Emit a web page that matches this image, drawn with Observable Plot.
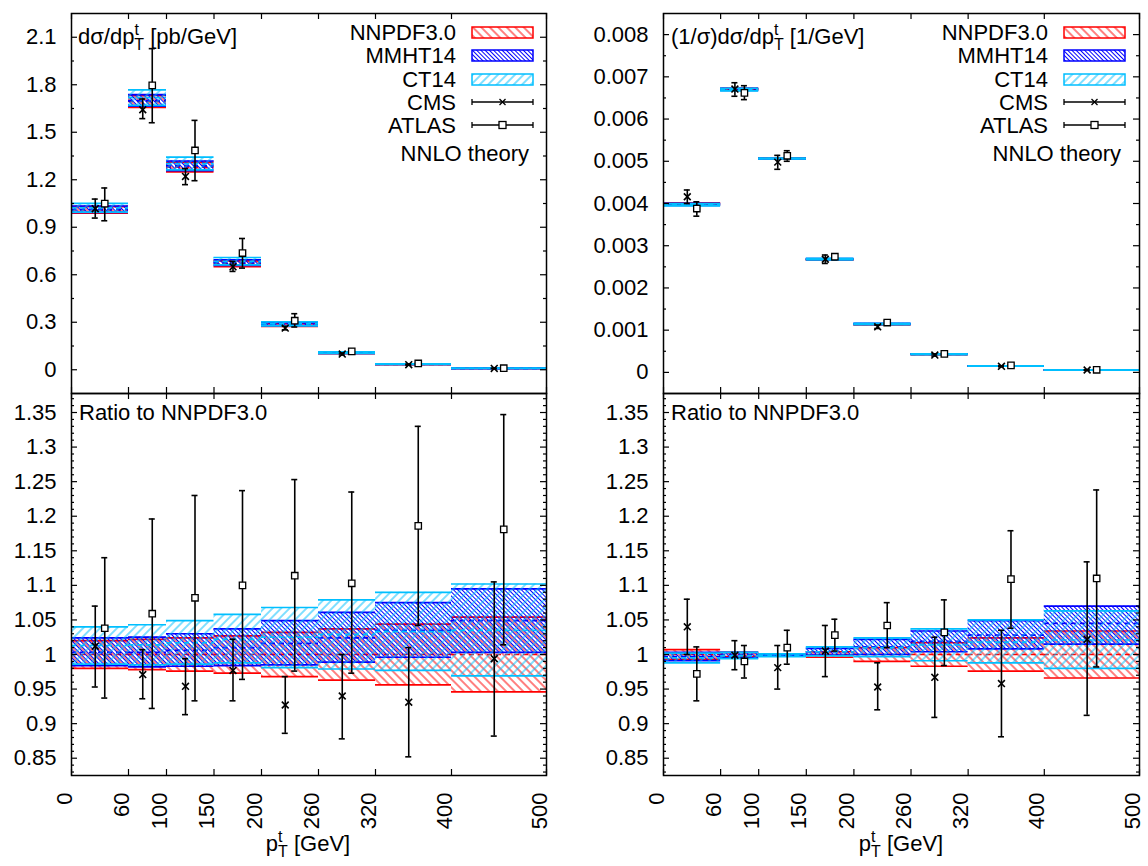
<!DOCTYPE html>
<html><head><meta charset="utf-8">
<script src="https://cdn.jsdelivr.net/npm/d3@7"></script>
<script src="https://cdn.jsdelivr.net/npm/@observablehq/plot@0.6"></script>
<style>
body{margin:0;background:#fff;}
#wrap{position:relative;width:1148px;height:866px;overflow:hidden;font-family:"Liberation Sans",Arial,Helvetica,sans-serif;}
</style></head><body>
<svg width="0" height="0" style="position:absolute;left:0;top:0">
<defs>
<pattern id="hatchRed" patternUnits="userSpaceOnUse" width="6" height="6" patternTransform="rotate(-45)"><line x1="3" y1="0" x2="3" y2="6" stroke="#ff0000" stroke-width="1"/></pattern>
<pattern id="hatchBlue" patternUnits="userSpaceOnUse" width="3" height="3" patternTransform="rotate(-45)"><line x1="1.5" y1="0" x2="1.5" y2="3" stroke="#0000ff" stroke-width="1"/></pattern>
<pattern id="hatchCyan" patternUnits="userSpaceOnUse" width="6" height="6" patternTransform="rotate(45)"><line x1="3" y1="0" x2="3" y2="6" stroke="#00bfff" stroke-width="1"/></pattern>
</defs></svg>
<div id="wrap"></div>
<script>
// ---------- data ----------
const binLo = [0, 60, 100, 150, 200, 260, 320, 400];
const binHi = [60, 100, 150, 200, 260, 320, 400, 500];
const xTicks = [0, 60, 100, 150, 200, 260, 320, 400, 500];
const cmsX = [25, 75, 120, 170, 225, 285, 355, 445];
const atlasX = [35, 85, 130, 180, 235, 295, 365, 455];

// absolute dsigma/dpT [pb/GeV]
const nnpdfAbs = [1.010, 1.695, 1.280, 0.670, 0.283, 0.105, 0.034, 0.0085];
const cmsAbs = [1.017, 1.642, 1.221, 0.650, 0.263, 0.099, 0.032, 0.0085];
const cmsAbsLo = [0.958, 1.586, 1.169, 0.621, 0.252, 0.093, 0.029, 0.0075];
const cmsAbsHi = [1.078, 1.710, 1.270, 0.684, 0.274, 0.105, 0.035, 0.0095];
const atlasAbs = [1.049, 1.796, 1.385, 0.737, 0.310, 0.116, 0.040, 0.0100];
const atlasAbsLo = [0.941, 1.560, 1.194, 0.642, 0.270, 0.101, 0.035, 0.0087];
const atlasAbsHi = [1.148, 2.028, 1.575, 0.829, 0.354, 0.130, 0.045, 0.0114];

// normalized (1/sigma) dsigma/dpT [1/GeV]
const nnpdfNorm = [0.00399, 0.00671, 0.00507, 0.00267, 0.001135, 0.000425, 0.000150, 0.000055];
const cmsNorm = [0.00416, 0.00671, 0.00498, 0.00268, 0.00108, 0.000411, 0.000144, 0.000056];
const cmsNormLo = [0.00400, 0.00654, 0.00481, 0.00258, 0.00104, 0.000386, 0.000132, 0.000050];
const cmsNormHi = [0.00432, 0.00686, 0.00514, 0.00278, 0.00112, 0.000436, 0.000155, 0.000062];
const atlasNorm = [0.00388, 0.00662, 0.00513, 0.00274, 0.00118, 0.000439, 0.000166, 0.000061];
const atlasNormLo = [0.00370, 0.00646, 0.00500, 0.00267, 0.00114, 0.000418, 0.000156, 0.000054];
const atlasNormHi = [0.00404, 0.00679, 0.00525, 0.00280, 0.00122, 0.000459, 0.000177, 0.000068];

// ratio to NNPDF3.0, absolute distribution (left)
const nnpdfRatLoL = [0.980, 0.978, 0.976, 0.973, 0.968, 0.963, 0.956, 0.946];
const nnpdfRatHiL = [1.020, 1.022, 1.024, 1.027, 1.032, 1.037, 1.044, 1.054];
const mmhtRatLoL = [0.984, 0.982, 0.983, 0.984, 0.985, 0.989, 0.996, 1.003];
const mmhtRatHiL = [1.024, 1.025, 1.030, 1.037, 1.049, 1.061, 1.075, 1.095];
const mmhtRatCL = [1.003, 1.003, 1.006, 1.010, 1.016, 1.024, 1.035, 1.049];
const ct14RatLoL = [0.986, 0.985, 0.986, 0.988, 0.981, 0.979, 0.977, 0.969];
const ct14RatHiL = [1.040, 1.043, 1.049, 1.058, 1.068, 1.079, 1.090, 1.102];
const ct14RatCL = [1.013, 1.014, 1.017, 1.022, 1.025, 1.029, 1.033, 1.035];
const cmsRatL = [1.012, 0.971, 0.954, 0.977, 0.927, 0.940, 0.931, 0.994];
const cmsRatLoL = [0.953, 0.936, 0.913, 0.933, 0.886, 0.878, 0.852, 0.882];
const cmsRatHiL = [1.070, 1.007, 0.994, 1.022, 0.968, 1.000, 1.010, 1.105];
const atlasRatL = [1.038, 1.059, 1.082, 1.100, 1.114, 1.103, 1.186, 1.181];
const atlasRatLoL = [0.937, 0.922, 0.933, 0.964, 0.976, 0.973, 1.042, 1.014];
const atlasRatHiL = [1.140, 1.196, 1.230, 1.237, 1.253, 1.235, 1.330, 1.347];

// ratio to NNPDF3.0, normalized distribution (right)
const nnpdfRatLoR = [0.993, 0.997, 0.999, 0.996, 0.990, 0.983, 0.976, 0.966];
const nnpdfRatHiR = [1.007, 1.003, 1.001, 1.004, 1.010, 1.017, 1.024, 1.034];
const mmhtRatLoR = [0.991, 0.995, 0.998, 0.999, 1.000, 1.004, 1.008, 1.015];
const mmhtRatHiR = [1.003, 1.003, 1.000, 1.009, 1.022, 1.034, 1.049, 1.070];
const mmhtRatCR = [0.997, 0.999, 0.999, 1.004, 1.011, 1.019, 1.028, 1.045];
const ct14RatLoR = [0.988, 0.994, 0.997, 0.998, 0.997, 0.991, 0.988, 0.980];
const ct14RatHiR = [1.002, 1.003, 1.001, 1.011, 1.024, 1.037, 1.050, 1.063];
const ct14RatCR = [0.995, 0.998, 0.999, 1.004, 1.010, 1.014, 1.018, 1.021];
const cmsRatR = [1.040, 0.999, 0.981, 1.005, 0.953, 0.967, 0.958, 1.022];
const cmsRatLoR = [1.000, 0.978, 0.950, 0.968, 0.920, 0.909, 0.881, 0.912];
const cmsRatHiR = [1.080, 1.020, 1.013, 1.042, 0.988, 1.025, 1.035, 1.134];
const atlasRatR = [0.972, 0.990, 1.010, 1.028, 1.042, 1.032, 1.109, 1.110];
const atlasRatLoR = [0.933, 0.966, 0.986, 1.005, 1.010, 0.984, 1.038, 0.982];
const atlasRatHiR = [1.011, 1.013, 1.035, 1.051, 1.075, 1.079, 1.179, 1.238];

// ticks
const yMajTL = [0, 0.3, 0.6, 0.9, 1.2, 1.5, 1.8, 2.1];
const yMinTL = [0.15, 0.45, 0.75, 1.05, 1.35, 1.65, 1.95];
const yMajTR = [0, 0.001, 0.002, 0.003, 0.004, 0.005, 0.006, 0.007, 0.008];
const yMinTR = [0.0005, 0.0015, 0.0025, 0.0035, 0.0045, 0.0055, 0.0065, 0.0075];
const yMajR = [0.85, 0.9, 0.95, 1, 1.05, 1.1, 1.15, 1.2, 1.25, 1.3, 1.35];
const yMinR = d3.range(83, 138).filter(k => k % 5 !== 0).map(k => k / 100);

const legendNames = ["NNPDF3.0", "MMHT14", "CT14", "CMS", "ATLAS"];
const RED = "#ff0000", BLUE = "#0000ff", CYAN = "#00bfff";
const FONT = "'Liberation Sans', Arial, Helvetica, sans-serif";

// ---------- helpers ----------
const ones = binLo.map(() => 1);
function bandRows(lo, hi, c, scale) {
  return binLo.map((x1, i) => ({
    x1, x2: binHi[i],
    lo: lo[i] * (scale ? scale[i] : 1),
    hi: hi[i] * (scale ? scale[i] : 1),
    c: c[i] * (scale ? scale[i] : 1)
  }));
}
function pointRows(xs, v, lo, hi) {
  return xs.map((x, i) => ({x, v: v[i], lo: lo[i], hi: hi[i]}));
}
function bandMarks(rows, color, pat) {
  return [
    Plot.rect(rows, {x1: "x1", x2: "x2", y1: "lo", y2: "hi", fill: `url(#${pat})`}),
    Plot.ruleY(rows, {y: "lo", x1: "x1", x2: "x2", stroke: color, strokeWidth: 1.7}),
    Plot.ruleY(rows, {y: "hi", x1: "x1", x2: "x2", stroke: color, strokeWidth: 1.7}),
    Plot.ruleY(rows, {y: "c", x1: "x1", x2: "x2", stroke: color, strokeWidth: 1.7, strokeDasharray: "5,4"})
  ];
}
function pointMarks(rows, symbol) {
  return [
    Plot.ruleX(rows, {x: "x", y1: "lo", y2: "hi", stroke: "black", strokeWidth: 1.6}),
    Plot.ruleY(rows, {y: "lo", x1: "x", x2: "x", insetLeft: -3, insetRight: -3, stroke: "black", strokeWidth: 1.6}),
    Plot.ruleY(rows, {y: "hi", x1: "x", x2: "x", insetLeft: -3, insetRight: -3, stroke: "black", strokeWidth: 1.6}),
    symbol === "square"
      ? Plot.dot(rows, {x: "x", y: "v", symbol: "square", r: 3.6, stroke: "black", strokeWidth: 1.3, fill: "white"})
      : Plot.dot(rows, {x: "x", y: "v", symbol: "times", r: 3.2, stroke: "black", strokeWidth: 1.6})
  ];
}
function tickMarks(fw, fh, yMaj, yMin) {
  const s = {stroke: "black", strokeWidth: 1.2};
  return [
    Plot.tickY(yMaj, {y: d => d, insetRight: fw - 6, ...s}),
    Plot.tickY(yMaj, {y: d => d, insetLeft: fw - 6, ...s}),
    Plot.tickY(yMin, {y: d => d, insetRight: fw - 3, ...s}),
    Plot.tickY(yMin, {y: d => d, insetLeft: fw - 3, ...s}),
    Plot.tickX(xTicks, {x: d => d, insetBottom: fh - 6, ...s}),
    Plot.tickX(xTicks, {x: d => d, insetTop: fh - 6, ...s})
  ];
}

function makePanel(o) {
  const fw = o.width - o.ml - o.mr, fh = o.height - o.mt - o.mb;
  const marks = [
    ...o.bands.flatMap(b => bandMarks(b.rows, b.color, b.pat)),
    ...pointMarks(o.cms, "times"),
    ...pointMarks(o.atlas, "square"),
    ...tickMarks(fw, fh, o.yMaj, o.yMin),
    Plot.frame({stroke: "black", strokeWidth: 1.5}),
    Plot.text(o.yMaj, {y: d => d, text: d => String(d), frameAnchor: "left", dx: -15, textAnchor: "end", fontSize: 22, fill: "black"})
  ];
  if (o.bottom) {
    marks.push(Plot.text(xTicks, {x: d => d, text: d => String(d), frameAnchor: "bottom", rotate: -90, textAnchor: "end", dy: 17, fontSize: 22, fill: "black"}));
  }
  const svg = Plot.plot({
    width: o.width, height: o.height,
    marginLeft: o.ml, marginRight: o.mr, marginTop: o.mt, marginBottom: o.mb,
    x: {domain: [0, 500], axis: null},
    y: {domain: o.yDomain, axis: null},
    style: {position: "absolute", left: o.left + "px", top: o.top + "px", overflow: "visible", fontFamily: FONT, fontSize: "22px", background: "transparent", color: "black"},
    marks
  });
  document.getElementById("wrap").appendChild(svg);
  return d3.select(svg);
}

function scriptText(sel, x, y, pre, sup, sub, post, anchor) {
  const t = sel.append("text").attr("x", x).attr("y", y).attr("font-size", 22)
    .attr("font-family", FONT).attr("fill", "black").attr("text-anchor", anchor || "start");
  t.append("tspan").text(pre);
  t.append("tspan").attr("font-size", 16).attr("dy", -9).text(sup);
  t.append("tspan").attr("font-size", 16).attr("dx", -4.5).attr("dy", 15).text(sub);
  t.append("tspan").attr("dy", -6).text(post);
}
function plainText(sel, x, y, s, anchor) {
  sel.append("text").attr("x", x).attr("y", y).attr("font-size", 22).attr("font-family", FONT)
    .attr("fill", "black").attr("text-anchor", anchor || "start").text(s);
}
function legend(sel, textEnd, bx) {
  const bw = 61, rowsY = [40, 63, 87, 110, 133];
  const cols = [RED, BLUE, CYAN], pats = ["hatchRed", "hatchBlue", "hatchCyan"];
  legendNames.forEach((n, i) => plainText(sel, textEnd, rowsY[i], n, "end"));
  plainText(sel, textEnd + 73, 161, "NNLO theory", "end");
  for (let i = 0; i < 3; i++) {
    sel.append("rect").attr("x", bx).attr("y", rowsY[i] - 13).attr("width", bw).attr("height", 11)
      .attr("fill", `url(#${pats[i]})`).attr("stroke", cols[i]).attr("stroke-width", 1.5);
  }
  for (let i = 3; i < 5; i++) {
    const y = rowsY[i] - 8, cx = bx + bw / 2;
    const g = sel.append("g").attr("stroke", "black").attr("stroke-width", 1.3).attr("fill", "none");
    g.append("line").attr("x1", bx).attr("x2", bx + bw).attr("y1", y).attr("y2", y);
    g.append("line").attr("x1", bx).attr("x2", bx).attr("y1", y - 3).attr("y2", y + 3);
    g.append("line").attr("x1", bx + bw).attr("x2", bx + bw).attr("y1", y - 3).attr("y2", y + 3);
    if (i === 3) {
      g.append("path").attr("d", `M${cx - 3},${y - 3}L${cx + 3},${y + 3}M${cx - 3},${y + 3}L${cx + 3},${y - 3}`);
    } else {
      g.append("rect").attr("x", cx - 3.5).attr("y", y - 3.5).attr("width", 7).attr("height", 7).attr("fill", "white");
    }
  }
}

// ---------- panels ----------
const geomL = {left: 0, width: 574, ml: 71, mr: 28};
const geomR = {left: 574, width: 574, ml: 89, mr: 9};
const geomT = {top: 0, height: 393, mt: 13, mb: 0};
const geomB = {top: 393, height: 473, mt: 0, mb: 91};

// top left: absolute
const tl = makePanel({...geomL, ...geomT, yDomain: [-0.15, 2.25], yMaj: yMajTL, yMin: yMinTL,
  bands: [
    {rows: bandRows(nnpdfRatLoL, nnpdfRatHiL, ones, nnpdfAbs), color: RED, pat: "hatchRed"},
    {rows: bandRows(mmhtRatLoL, mmhtRatHiL, mmhtRatCL, nnpdfAbs), color: BLUE, pat: "hatchBlue"},
    {rows: bandRows(ct14RatLoL, ct14RatHiL, ct14RatCL, nnpdfAbs), color: CYAN, pat: "hatchCyan"}
  ],
  cms: pointRows(cmsX, cmsAbs, cmsAbsLo, cmsAbsHi),
  atlas: pointRows(atlasX, atlasAbs, atlasAbsLo, atlasAbsHi)
});
scriptText(tl, 78, 44, "dσ/dp", "t", "T", " [pb/GeV]");
legend(tl, 456, 472);

// top right: normalized
const tr = makePanel({...geomR, ...geomT, yDomain: [-0.0005, 0.0085], yMaj: yMajTR, yMin: yMinTR,
  bands: [
    {rows: bandRows(nnpdfRatLoR, nnpdfRatHiR, ones, nnpdfNorm), color: RED, pat: "hatchRed"},
    {rows: bandRows(mmhtRatLoR, mmhtRatHiR, mmhtRatCR, nnpdfNorm), color: BLUE, pat: "hatchBlue"},
    {rows: bandRows(ct14RatLoR, ct14RatHiR, ct14RatCR, nnpdfNorm), color: CYAN, pat: "hatchCyan"}
  ],
  cms: pointRows(cmsX, cmsNorm, cmsNormLo, cmsNormHi),
  atlas: pointRows(atlasX, atlasNorm, atlasNormLo, atlasNormHi)
});
scriptText(tr, 97, 44, "(1/σ)dσ/dp", "t", "T", " [1/GeV]");
legend(tr, 474, 490);

// bottom left: ratio
const bl = makePanel({...geomL, ...geomB, yDomain: [0.825, 1.3775], yMaj: yMajR, yMin: yMinR, bottom: true,
  bands: [
    {rows: bandRows(nnpdfRatLoL, nnpdfRatHiL, ones), color: RED, pat: "hatchRed"},
    {rows: bandRows(mmhtRatLoL, mmhtRatHiL, mmhtRatCL), color: BLUE, pat: "hatchBlue"},
    {rows: bandRows(ct14RatLoL, ct14RatHiL, ct14RatCL), color: CYAN, pat: "hatchCyan"}
  ],
  cms: pointRows(cmsX, cmsRatL, cmsRatLoL, cmsRatHiL),
  atlas: pointRows(atlasX, atlasRatL, atlasRatLoL, atlasRatHiL)
});
plainText(bl, 79, 27, "Ratio to NNPDF3.0");
scriptText(bl, 308, 458, "p", "t", "T", " [GeV]", "middle");

// bottom right: ratio
const br = makePanel({...geomR, ...geomB, yDomain: [0.825, 1.3775], yMaj: yMajR, yMin: yMinR, bottom: true,
  bands: [
    {rows: bandRows(nnpdfRatLoR, nnpdfRatHiR, ones), color: RED, pat: "hatchRed"},
    {rows: bandRows(mmhtRatLoR, mmhtRatHiR, mmhtRatCR), color: BLUE, pat: "hatchBlue"},
    {rows: bandRows(ct14RatLoR, ct14RatHiR, ct14RatCR), color: CYAN, pat: "hatchCyan"}
  ],
  cms: pointRows(cmsX, cmsRatR, cmsRatLoR, cmsRatHiR),
  atlas: pointRows(atlasX, atlasRatR, atlasRatLoR, atlasRatHiR)
});
plainText(br, 97, 27, "Ratio to NNPDF3.0");
scriptText(br, 327, 458, "p", "t", "T", " [GeV]", "middle");
</script>
</body></html>
